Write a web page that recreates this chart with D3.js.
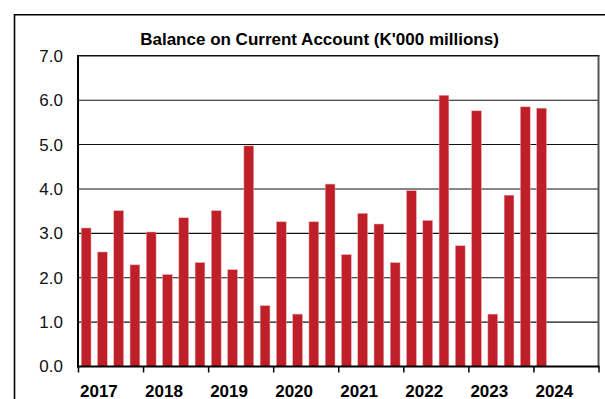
<!DOCTYPE html>
<html>
<head>
<meta charset="utf-8">
<script src="https://cdn.jsdelivr.net/npm/d3@7/dist/d3.min.js"></script>
<style>
  html, body { margin: 0; padding: 0; background: #fff; }
  svg { display: block; font-family: "Liberation Sans", Arial, sans-serif; }
</style>
</head>
<body>
<svg id="chart" width="605" height="399"></svg>
<script>
// Quarterly balance on current account, K'000 millions
const years = ["2017", "2018", "2019", "2020", "2021", "2022", "2023", "2024"];
const quarterNames = ["Q1", "Q2", "Q3", "Q4"];
const values = [
  3.12, 2.58, 3.51, 2.29,   // 2017
  3.03, 2.07, 3.35, 2.34,   // 2018
  3.51, 2.18, 4.97, 1.37,   // 2019
  3.26, 1.18, 3.26, 4.11,   // 2020
  2.52, 3.45, 3.21, 2.34,   // 2021
  3.96, 3.29, 6.11, 2.72,   // 2022
  5.76, 1.18, 3.86, 5.85,   // 2023
  5.82                      // 2024
];
const yTicks = [0, 1, 2, 3, 4, 5, 6, 7];
const title = "Balance on Current Account (K'000 millions)";

const quarters = years.flatMap(yr => quarterNames.map(q => yr + q));
const data = values.map((v, i) => ({ key: quarters[i], value: v }));

const svg = d3.select("#chart");
const plotLeft = 78, plotRight = 598.5, plotTop = 55.8, plotBottom = 366.5;

const x = d3.scaleBand().domain(quarters).range([plotLeft, plotRight])
  .paddingInner(0.4).paddingOuter(0.2);
const y = d3.scaleLinear().domain([0, 7]).range([plotBottom, plotTop]);
const yearX = d3.scaleLinear().domain([2017, 2025]).range([plotLeft, plotRight]);

// outer frame
svg.append("path")
  .attr("d", `M14.5,410 L14.5,14.8 L620,14.8`)
  .attr("fill", "none").attr("stroke", "#000").attr("stroke-width", 1.6);

// title
svg.append("text")
  .attr("x", 319.5).attr("y", 44.5)
  .attr("text-anchor", "middle")
  .attr("font-size", 17).attr("font-weight", "bold")
  .text(title);

// horizontal gridlines
svg.append("g").selectAll("line")
  .data(yTicks.filter(d => d > 0 && d < 7))
  .join("line")
  .attr("x1", plotLeft).attr("x2", plotRight)
  .attr("y1", d => y(d)).attr("y2", d => y(d))
  .attr("stroke", "#111").attr("stroke-width", 1.1);

// plot box top and right edges
svg.append("line")
  .attr("x1", plotLeft).attr("x2", plotRight + 1)
  .attr("y1", y(7)).attr("y2", y(7))
  .attr("stroke", "#111").attr("stroke-width", 1.6);
svg.append("line")
  .attr("x1", plotRight).attr("x2", plotRight)
  .attr("y1", y(7)).attr("y2", plotBottom)
  .attr("stroke", "#555").attr("stroke-width", 2);

// bars
svg.append("g").selectAll("rect")
  .data(data)
  .join("rect")
  .attr("x", d => x(d.key))
  .attr("width", x.bandwidth())
  .attr("y", d => y(d.value))
  .attr("height", d => y(0) - y(d.value))
  .attr("fill", "#BF1F29")
  .attr("stroke", "#e7a5aa").attr("stroke-width", 0.5);

// y axis
const yAxis = svg.append("g")
  .attr("transform", `translate(${plotLeft},0)`)
  .call(d3.axisLeft(y).tickValues(yTicks).tickFormat(d3.format(".1f"))
    .tickSize(0).tickPadding(15));
yAxis.select(".domain").remove();
yAxis.selectAll("text")
  .attr("font-size", 17).attr("fill", "#111")
  .attr("font-family", "Liberation Sans, Arial, sans-serif");
svg.append("line")
  .attr("x1", plotLeft).attr("x2", plotLeft)
  .attr("y1", y(7) - 0.8).attr("y2", plotBottom + 1)
  .attr("stroke", "#000").attr("stroke-width", 2);

// x axis with year ticks at quarter boundaries
const xAxis = svg.append("g")
  .attr("transform", `translate(0,${plotBottom})`)
  .call(d3.axisBottom(yearX)
    .tickValues(d3.range(2017, 2026))
    .tickFormat(d => d < 2025 ? String(d) : "")
    .tickSize(6).tickSizeOuter(0));
xAxis.select(".domain").remove();
xAxis.selectAll(".tick line").attr("stroke", "#000").attr("stroke-width", 1.5);
xAxis.selectAll("text")
  .attr("text-anchor", "start")
  .attr("x", 1.5).attr("y", 30).attr("dy", 0)
  .attr("font-size", 17).attr("font-weight", "bold").attr("fill", "#000")
  .attr("font-family", "Liberation Sans, Arial, sans-serif");
svg.append("line")
  .attr("x1", plotLeft - 1).attr("x2", plotRight + 1)
  .attr("y1", plotBottom).attr("y2", plotBottom)
  .attr("stroke", "#000").attr("stroke-width", 2.2);
</script>
</body>
</html>
